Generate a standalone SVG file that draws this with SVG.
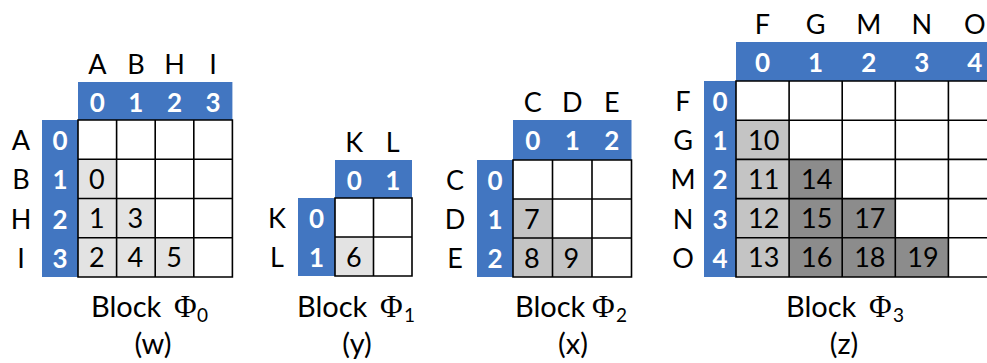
<svg xmlns="http://www.w3.org/2000/svg" width="987" height="363" viewBox="0 0 987 363">
<style>
.bar{fill:#4276c1}
.grid{fill:none;stroke:#000;stroke-width:1.6}
.g1{fill:#e3e3e3}
.g2{fill:#c4c4c4}
.g3{fill:#8c8c8c}
text{font-family:Lato,"Open Sans","Liberation Sans",sans-serif;font-size:27px;fill:#000}
.lab{text-anchor:middle}
.hd{text-anchor:middle;font-weight:bold;fill:#fff;font-size:26px}
.cap{font-size:29px}
.phi{font-family:"Liberation Serif","DejaVu Serif",serif;font-size:31px}
.sub{font-size:19px}
.par{font-size:29px;text-anchor:middle}
</style>
<rect width="987" height="363" fill="#fff"/>

<g id="block-w">
<rect class="bar" x="78" y="82" width="154.4" height="38"/>
<rect class="bar" x="42" y="120" width="36" height="157"/>
<rect class="g1" x="78" y="159.25" width="38.6" height="39.25"/>
<rect class="g1" x="78" y="198.5" width="77.2" height="39.25"/>
<rect class="g1" x="78" y="237.75" width="115.8" height="39.25"/>
<path class="grid" d="M78 120H232.4V277H78Z M116.6 120V277 M155.2 120V277 M193.8 120V277 M78 159.25H232.4 M78 198.5H232.4 M78 237.75H232.4"/>
<text class="lab" x="97.3" y="73.5">A</text><text class="lab" x="135.9" y="73.5">B</text><text class="lab" x="174.5" y="73.5">H</text><text class="lab" x="213.1" y="73.5">I</text>
<text class="hd" x="97.3" y="111.5">0</text><text class="hd" x="135.9" y="111.5">1</text><text class="hd" x="174.5" y="111.5">2</text><text class="hd" x="213.1" y="111.5">3</text>
<text class="lab" x="21" y="150">A</text><text class="lab" x="21" y="189.25">B</text><text class="lab" x="21" y="228.5">H</text><text class="lab" x="21" y="267.75">I</text>
<text class="hd" x="60" y="150">0</text><text class="hd" x="60" y="189.25">1</text><text class="hd" x="60" y="228.5">2</text><text class="hd" x="60" y="267.75">3</text>
<text x="89" y="188.75">0</text><text x="89" y="228">1</text><text x="127.6" y="228">3</text>
<text x="89" y="267.25">2</text><text x="127.6" y="267.25">4</text><text x="166.2" y="267.25">5</text>
<text class="cap" x="91" y="317">Block</text><text class="phi" x="174" y="317">Φ</text><text class="sub" x="197" y="322">0</text>
<text class="par" x="153" y="354">(w)</text>
</g>

<g id="block-y">
<rect class="bar" x="335" y="160" width="77" height="38"/>
<rect class="bar" x="298" y="198" width="37" height="78"/>
<rect class="g1" x="335" y="237" width="38.5" height="39"/>
<path class="grid" d="M335 198H412V276H335Z M373.5 198V276 M335 237H412"/>
<text class="lab" x="354.25" y="151.5">K</text><text class="lab" x="392.75" y="151.5">L</text>
<text class="hd" x="354.25" y="190">0</text><text class="hd" x="392.75" y="190">1</text>
<text class="lab" x="277" y="228">K</text><text class="lab" x="277" y="267">L</text>
<text class="hd" x="316.5" y="228">0</text><text class="hd" x="316.5" y="267">1</text>
<text x="346" y="266.5">6</text>
<text class="cap" x="297" y="317">Block</text><text class="phi" x="380" y="317">Φ</text><text class="sub" x="404" y="322">1</text>
<text class="par" x="357" y="354">(y)</text>
</g>

<g id="block-x">
<rect class="bar" x="513" y="120" width="118.5" height="40"/>
<rect class="bar" x="477" y="160" width="36" height="117"/>
<rect class="g2" x="513" y="199" width="39.5" height="39"/>
<rect class="g2" x="513" y="238" width="79" height="39"/>
<path class="grid" d="M513 160H631.5V277H513Z M552.5 160V277 M592 160V277 M513 199H631.5 M513 238H631.5"/>
<text class="lab" x="532.75" y="112">C</text><text class="lab" x="572.25" y="112">D</text><text class="lab" x="611.75" y="112">E</text>
<text class="hd" x="532.75" y="150">0</text><text class="hd" x="572.25" y="150">1</text><text class="hd" x="611.75" y="150">2</text>
<text class="lab" x="455" y="190">C</text><text class="lab" x="455" y="229">D</text><text class="lab" x="455" y="268">E</text>
<text class="hd" x="495" y="190">0</text><text class="hd" x="495" y="229">1</text><text class="hd" x="495" y="268">2</text>
<text x="524" y="228.5">7</text><text x="524" y="267.5">8</text><text x="563.5" y="267.5">9</text>
<text class="cap" x="515" y="317">Block</text><text class="phi" x="592" y="317">Φ</text><text class="sub" x="616" y="322">2</text>
<text class="par" x="573" y="354">(x)</text>
</g>

<g id="block-z">
<rect class="bar" x="736" y="42" width="265" height="39"/>
<rect class="bar" x="704" y="81" width="32" height="196"/>
<rect class="g2" x="736" y="120.2" width="53.1" height="156.8"/>
<rect class="g3" x="789.1" y="159.4" width="53.1" height="117.6"/>
<rect class="g3" x="842.2" y="198.6" width="53.1" height="78.4"/>
<rect class="g3" x="895.3" y="237.8" width="53.1" height="39.2"/>
<path class="grid" d="M1001.5 81H736V277H1001.5V81 M789.1 81V277 M842.2 81V277 M895.3 81V277 M948.4 81V277 M736 120.2H1001.5 M736 159.4H1001.5 M736 198.6H1001.5 M736 237.8H1001.5"/>
<text class="lab" x="762.5" y="33.5">F</text><text class="lab" x="815.6" y="33.5">G</text><text class="lab" x="868.7" y="33.5">M</text><text class="lab" x="921.8" y="33.5">N</text><text class="lab" x="974.9" y="33.5">O</text>
<text class="hd" x="762.5" y="72">0</text><text class="hd" x="815.6" y="72">1</text><text class="hd" x="868.7" y="72">2</text><text class="hd" x="921.8" y="72">3</text><text class="hd" x="974.9" y="72">4</text>
<text class="lab" x="683" y="111">F</text><text class="lab" x="683" y="150.2">G</text><text class="lab" x="683" y="189.4">M</text><text class="lab" x="683" y="228.6">N</text><text class="lab" x="683" y="267.8">O</text>
<text class="hd" x="720" y="111">0</text><text class="hd" x="720" y="150.2">1</text><text class="hd" x="720" y="189.4">2</text><text class="hd" x="720" y="228.6">3</text><text class="hd" x="720" y="267.8">4</text>
<text x="748" y="149.7">10</text><text x="748" y="188.9">11</text><text x="748" y="228.1">12</text><text x="748" y="267.3">13</text>
<text x="801.1" y="188.9">14</text><text x="801.1" y="228.1">15</text><text x="801.1" y="267.3">16</text>
<text x="854.2" y="228.1">17</text><text x="854.2" y="267.3">18</text>
<text x="907.3" y="267.3">19</text>
<text class="cap" x="786" y="317">Block</text><text class="phi" x="869" y="317">Φ</text><text class="sub" x="893" y="322">3</text>
<text class="par" x="844" y="354">(z)</text>
</g>
</svg>
